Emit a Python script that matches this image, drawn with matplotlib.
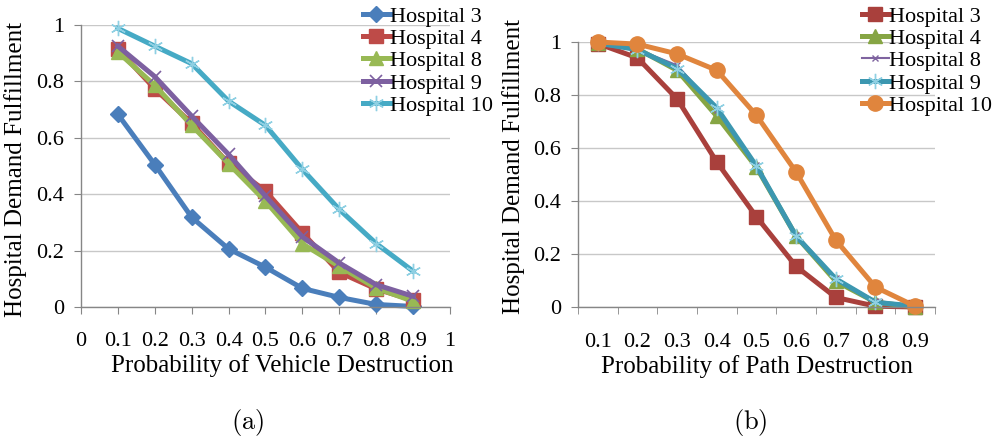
import numpy as np
import matplotlib
matplotlib.use("Agg")
import matplotlib.pyplot as plt

plt.rcParams['font.family'] = ['Liberation Serif', 'DejaVu Serif']
plt.rcParams['font.size'] = 16
plt.rcParams['mathtext.fontset'] = 'cm'

# (a) 車両破壊確率
veh_prob = [0.1, 0.2, 0.3, 0.4, 0.5, 0.6, 0.7, 0.8, 0.9]
veh_h3 = [0.683, 0.505, 0.318, 0.206, 0.141, 0.066, 0.034, 0.009, 0.002]
veh_h4 = [0.914, 0.774, 0.651, 0.509, 0.411, 0.263, 0.123, 0.064, 0.024]
veh_h8 = [0.904, 0.786, 0.644, 0.508, 0.375, 0.224, 0.144, 0.067, 0.020]
veh_h9 = [0.925, 0.817, 0.677, 0.541, 0.393, 0.249, 0.156, 0.079, 0.038]
veh_h10 = [0.988, 0.925, 0.863, 0.730, 0.644, 0.488, 0.346, 0.225, 0.127]

# (b) 経路破壊確率
path_cats = ['0.1', '0.2', '0.3', '0.4', '0.5', '0.6', '0.7', '0.8', '0.9']
path_h3 = [0.994, 0.940, 0.785, 0.547, 0.340, 0.153, 0.036, 0.003, 0.0]
path_h4 = [0.996, 0.974, 0.893, 0.720, 0.527, 0.267, 0.097, 0.018, 0.0]
path_h8 = [0.996, 0.972, 0.912, 0.745, 0.535, 0.273, 0.109, 0.021, 0.002]
path_h9 = [0.996, 0.971, 0.900, 0.751, 0.531, 0.267, 0.106, 0.018, 0.003]
path_h10 = [1.0, 0.992, 0.955, 0.893, 0.723, 0.509, 0.252, 0.075, 0.003]

labels = ['Hospital 3', 'Hospital 4', 'Hospital 8', 'Hospital 9', 'Hospital 10']

W, H = 995, 445
fig = plt.figure(figsize=(W / 100, H / 100), dpi=100)


def px_axes(x0, x1, ytop, ybot):
    return fig.add_axes([x0 / W, (H - ybot) / H, (x1 - x0) / W, (ybot - ytop) / H])


def style_axes(ax):
    for s in ['top', 'right']:
        ax.spines[s].set_visible(False)
    for s in ['left', 'bottom']:
        ax.spines[s].set_color('#868686')
        ax.spines[s].set_linewidth(1.0)
    ax.set_ylim(0, 1)
    ax.set_yticks([0, 0.2, 0.4, 0.6, 0.8, 1.0])
    ax.set_yticklabels(['0', '0.2', '0.4', '0.6', '0.8', '1'])
    ax.yaxis.grid(True, color='#c8c8c8', linewidth=1.0)
    ax.set_axisbelow(True)
    ax.tick_params(axis='y', length=5, color='#868686', pad=7)
    ax.set_ylabel('Hospital Demand Fulfillment', fontsize=18)


leg_kw = dict(loc='upper left', bbox_transform=fig.transFigure, frameon=False,
              handlelength=1.2, handletextpad=0.0, labelspacing=0.08,
              borderaxespad=0, borderpad=0)

# ---------- (a) ----------
ax1 = px_axes(81, 450, 25, 307)
style_axes(ax1)
ax1.set_xlim(0, 1)
xt = np.round(np.arange(0, 1.01, 0.1), 1)
ax1.set_xticks(xt)
ax1.set_xticklabels(['0', '0.1', '0.2', '0.3', '0.4', '0.5', '0.6', '0.7', '0.8', '0.9', '1'])
ax1.tick_params(axis='x', length=5, color='#868686', pad=13)
ax1.yaxis.set_label_coords(-0.146, 0.489)

lw = 3.6
ax1.plot(veh_prob, veh_h3, color='#4a7ebb', lw=lw, marker='D', ms=8, clip_on=False, label=labels[0])
ax1.plot(veh_prob, veh_h4, color='#be4b48', lw=lw, marker='s', ms=10, clip_on=False, label=labels[1])
ax1.plot(veh_prob, veh_h8, color='#98b954', lw=lw, marker='^', ms=10, clip_on=False, label=labels[2])
ax1.plot(veh_prob, veh_h9, color='#7d60a0', lw=lw, marker='x', ms=9, mew=1.2, clip_on=False, label=labels[3])
ax1.plot(veh_prob, veh_h10, color='#46aac5', lw=lw, marker=(6, 2, 0), ms=11, mew=1.0,
         mec='#8fd0e3', clip_on=False, label=labels[4])
ax1.set_xlabel('Probability of Vehicle Destruction', fontsize=18)
ax1.xaxis.set_label_coords(0.545, -0.168)

ax1.legend(bbox_to_anchor=(363 / W, 1 - 6 / H), **leg_kw)

# ---------- (b) ----------
ax2 = px_axes(578, 935, 42, 307)
style_axes(ax2)
cat_x = np.arange(1, len(path_cats) + 1)
ax2.set_xlim(0.5, len(path_cats) + 0.5)
ax2.set_xticks(cat_x)
ax2.set_xticklabels(path_cats)
ax2.tick_params(axis='x', which='major', length=0, pad=19)
ax2.set_xticks(np.arange(0.5, len(path_cats) + 1), minor=True)
ax2.tick_params(axis='x', which='minor', length=5, color='#868686')
ax2.yaxis.set_label_coords(-0.148, 0.532)

ax2.plot(cat_x, path_h3, color='#a9403c', lw=lw, marker='s', ms=10, clip_on=False, label=labels[0])
ax2.plot(cat_x, path_h4, color='#86a544', lw=lw, marker='^', ms=10, clip_on=False, label=labels[1])
ax2.plot(cat_x, path_h8, color='#7f64a0', lw=1.5, marker='x', ms=5, mew=1.0, clip_on=False, label=labels[2])
ax2.plot(cat_x, path_h9, color='#3c97b0', lw=lw, marker=(6, 2, 0), ms=11, mew=1.0,
         mec='#8fd0e3', clip_on=False, label=labels[3])
ax2.plot(cat_x, path_h10, color='#e0853d', lw=lw, marker='o', ms=11, clip_on=False, label=labels[4])
ax2.set_xlabel('Probability of Path Destruction', fontsize=18)
ax2.xaxis.set_label_coords(0.50, -0.18)

ax2.legend(bbox_to_anchor=(862 / W, 1 - 6 / H), **leg_kw)

# サブ図キャプション（LaTeX 風）
fig.text(248 / W, 1 - 423 / H, r'$\mathrm{(a)}$', ha='center', va='center', fontsize=19)
fig.text(750 / W, 1 - 423 / H, r'$\mathrm{(b)}$', ha='center', va='center', fontsize=19)

fig.savefig('out.png', dpi=100)
